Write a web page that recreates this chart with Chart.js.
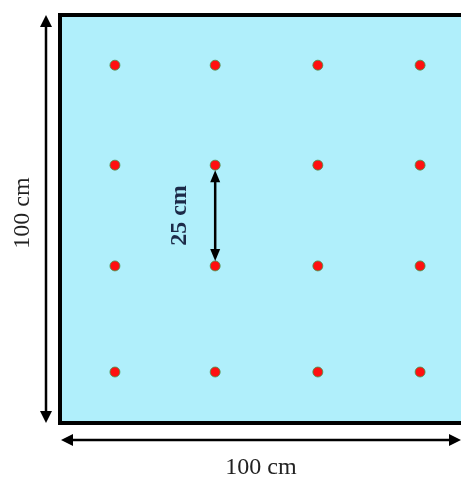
<!DOCTYPE html>
<html>
<head>
<meta charset="utf-8">
<script src="https://cdn.jsdelivr.net/npm/chart.js@4"></script>
<style>
  body { margin: 0; background: #fff; }
  #wrap { width: 461px; height: 479px; }
</style>
</head>
<body>
<div id="wrap"><canvas id="plot" width="461" height="479"></canvas></div>
<script>
// Позиции лунок в см (сетка 4x4, шаг 25 см)
const colsX = [13.7, 38.7, 64.3, 89.8];
const rowsY = [87.7, 63.2, 38.5, 12.5];
const sideLabel = '100 cm';
const stepLabel = '25 cm';
// стрелка между двумя точками второго столбца
const stepFrom = [38.7, 63.2];
const stepTo = [38.7, 38.5];

const points = [];
rowsY.forEach(y => colsX.forEach(x => points.push({ x: x, y: y })));

function arrowHead(ctx, x, y, dir, len, half) {
    // dir: угол направления острия
    ctx.beginPath();
    ctx.moveTo(x, y);
    ctx.lineTo(x - len * Math.cos(dir) + half * Math.sin(dir), y - len * Math.sin(dir) - half * Math.cos(dir));
    ctx.lineTo(x - len * Math.cos(dir) - half * Math.sin(dir), y - len * Math.sin(dir) + half * Math.cos(dir));
    ctx.closePath();
    ctx.fill();
}

function doubleArrow(ctx, x1, y1, x2, y2, w, len, half) {
    const a = Math.atan2(y2 - y1, x2 - x1);
    ctx.lineWidth = w;
    ctx.beginPath();
    ctx.moveTo(x1 + Math.cos(a) * len * 0.8, y1 + Math.sin(a) * len * 0.8);
    ctx.lineTo(x2 - Math.cos(a) * len * 0.8, y2 - Math.sin(a) * len * 0.8);
    ctx.stroke();
    arrowHead(ctx, x2, y2, a, len, half);
    arrowHead(ctx, x1, y1, a + Math.PI, len, half);
}

// фон участка
const plotBg = {
    id: 'plotBg',
    beforeDatasetsDraw(chart) {
        const { ctx, chartArea: a } = chart;
        ctx.save();
        ctx.fillStyle = '#b0effb';
        ctx.fillRect(a.left, a.top, a.right - a.left, a.bottom - a.top);
        ctx.strokeStyle = '#000';
        ctx.lineWidth = 4;
        ctx.strokeRect(a.left, a.top, a.right - a.left + 10, a.bottom - a.top);
        ctx.restore();
    }
};

// размерные стрелки и подписи
const dims = {
    id: 'dims',
    afterDatasetsDraw(chart) {
        const { ctx, chartArea: a, scales: { x, y } } = chart;
        ctx.save();
        ctx.strokeStyle = '#000';
        ctx.fillStyle = '#000';
        doubleArrow(ctx, a.left - 14, a.top, a.left - 14, a.bottom, 2.5, 12, 6);
        doubleArrow(ctx, a.left + 1, a.bottom + 17, a.right, a.bottom + 17, 2.5, 12, 6);

        ctx.font = '24px "Liberation Serif"';
        ctx.textAlign = 'center';
        ctx.textBaseline = 'middle';
        ctx.fillStyle = '#222';
        ctx.fillText(sideLabel, 261, a.bottom + 45);
        ctx.save();
        ctx.translate(23, 213);
        ctx.rotate(-Math.PI / 2);
        ctx.fillText(sideLabel, 0, 0);
        ctx.restore();

        const sx = x.getPixelForValue(stepFrom[0]);
        const sy1 = y.getPixelForValue(stepFrom[1]) + 5;
        const sy2 = y.getPixelForValue(stepTo[1]) - 5;
        ctx.fillStyle = '#000';
        ctx.strokeStyle = '#000';
        doubleArrow(ctx, sx, sy1, sx, sy2, 2.5, 12, 5);

        ctx.fillStyle = '#1c2a48';
        ctx.font = 'bold 24px "Liberation Serif"';
        ctx.save();
        ctx.translate(sx - 35, (sy1 + sy2) / 2);
        ctx.rotate(-Math.PI / 2);
        ctx.fillText(stepLabel, 0, 0);
        ctx.restore();
        ctx.restore();
    }
};

new Chart(document.getElementById('plot'), {
    type: 'scatter',
    data: {
        datasets: [{
            data: points,
            backgroundColor: '#ff1010',
            borderColor: 'rgba(70,150,80,0.8)',
            borderWidth: 1,
            pointRadius: 5,
            pointHoverRadius: 5
        }]
    },
    options: {
        responsive: false,
        animation: false,
        layout: { autoPadding: false, padding: { left: 60, top: 15, right: 0, bottom: 56 } },
        plugins: { legend: { display: false }, tooltip: { enabled: false } },
        scales: {
            x: { type: 'linear', min: 0, max: 100, display: false },
            y: { type: 'linear', min: 0, max: 100, display: false }
        }
    },
    plugins: [plotBg, dims]
});
</script>
</body>
</html>
